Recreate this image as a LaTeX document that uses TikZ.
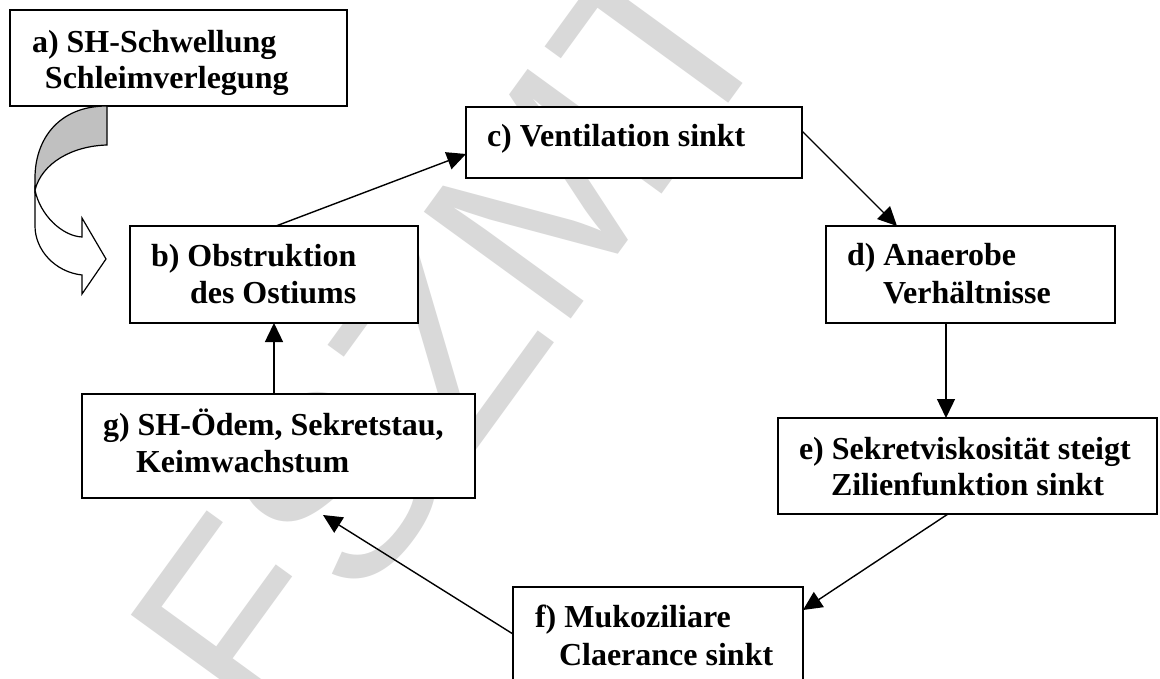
\documentclass[tikz,border=0pt]{standalone}
\usepackage{fontspec}
\setmainfont{Liberation Serif}
\newfontfamily\wmfont{Liberation Sans}
\usetikzlibrary{arrows.meta,calc}
\definecolor{wmgray}{RGB}{217,217,217}
\definecolor{shadegray}{RGB}{192,192,192}
\begin{document}
\begin{tikzpicture}[x=1pt,y=-1pt,
  box/.style={draw, line width=1.6pt, fill=white, inner sep=0pt, outer sep=0pt, anchor=north west},
  lbl/.style={anchor=base west, inner sep=0pt, outer sep=0pt, font=\bfseries\fontsize{32}{36}\selectfont},
  conn/.style={line width=1.4pt, -{Triangle[length=19pt,width=18pt]}},
  blockarrow/.style={line width=1.2pt}
]
\useasboundingbox (0,0) rectangle (1160,679);
\clip (0,0) rectangle (1160,679);
\fill[white] (0,0) rectangle (1160,679);
% watermark
\node[rotate=54, anchor=base west, inner sep=0pt, text=wmgray, font=\wmfont\fontsize{264}{270}\selectfont] (wm) at (265.6,740) {FSZMT};
% boxes
\node[box, minimum width=337pt, minimum height=96pt] (a) at (10,10) {};
\node[box, minimum width=288pt, minimum height=97pt] (b) at (130,226) {};
\node[box, minimum width=336pt, minimum height=71pt] (c) at (466,107) {};
\node[box, minimum width=289pt, minimum height=97pt] (d) at (826,226) {};
\node[box, minimum width=379pt, minimum height=96pt] (e) at (778,418) {};
\node[box, minimum width=290pt, minimum height=130pt] (f) at (513,587) {};
\node[box, minimum width=393pt, minimum height=104pt] (g) at (82,394) {};
% labels
\node[lbl] (a1) at (32,53) {a) SH-Schwellung};
\node[lbl] (a2) at (45,89) {Schleimverlegung};
\node[lbl] (b1) at (151,267) {b) Obstruktion};
\node[lbl] (b2) at (190,303) {des Ostiums};
\node[lbl] (c1) at (487,147) {c) Ventilation sinkt};
\node[lbl] (d1) at (847,266) {d) Anaerobe};
\node[lbl] (d2) at (883,303) {Verhältnisse};
\node[lbl] (e1) at (799,459) {e) Sekretviskosität steigt};
\node[lbl] (e2) at (831,495) {Zilienfunktion sinkt};
\node[lbl] (f1) at (535,627) {f) Mukoziliare};
\node[lbl] (f2) at (559,665) {Claerance sinkt};
\node[lbl] (g1) at (103,435) {g) SH-Ödem, Sekretstau,};
\node[lbl] (g2) at (136,472) {Keimwachstum};
% curved block arrow from a to b
\draw[blockarrow, fill=shadegray] (107,106) -- (107,145)
  .. controls (72,146) and (42,163) .. (35,190) -- (35,178)
  .. controls (35,140) and (58,106) .. (107,106) -- cycle;
\draw[blockarrow, fill=white] (35,190) -- (35,226)
  .. controls (35,250) and (55,272) .. (82,275) -- (82,294) -- (106,259) -- (82,218) -- (82,237)
  .. controls (62,236) and (40,215) .. (35,190) -- cycle;
% connectors
\draw[conn] ([xshift=-4.5pt]g.north) -- (b.south);
\draw[conn] ([xshift=2pt]b.north) -- ([yshift=-11.5pt]c.west);
\draw[conn] ([yshift=11.5pt]c.east) -- ([xshift=-73.5pt]d.north);
\draw[conn] ([xshift=-24.5pt]d.south) -- ([xshift=-21.5pt]e.north);
\draw[conn] ([xshift=-19.5pt]e.south) -- ([yshift=-23pt]f.north east);
\coordinate (gend) at ([xshift=44.5pt,yshift=-17pt]g.south);
\draw[conn] ([yshift=-47pt]f.north west) -- (gend);
\end{tikzpicture}
\end{document}
